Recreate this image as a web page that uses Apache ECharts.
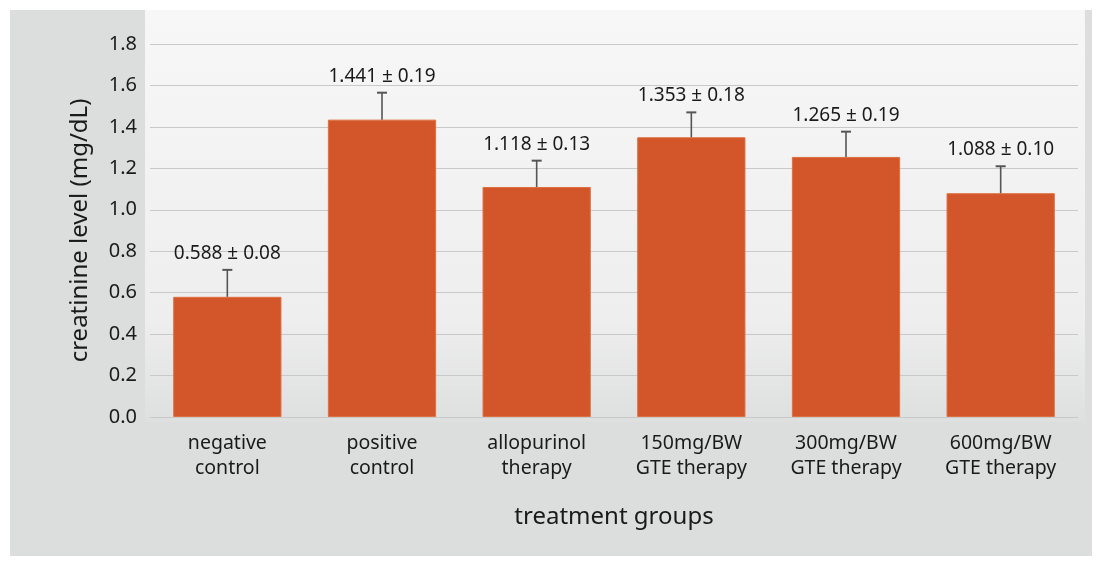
<!DOCTYPE html>
<html>
<head>
<meta charset="utf-8">
<title>creatinine level</title>
<script src="https://cdn.jsdelivr.net/npm/echarts@6/dist/echarts.min.js"></script>
<style>
  html, body { margin: 0; padding: 0; background: #ffffff; }
  #chart { width: 1099px; height: 565px; }
</style>
</head>
<body>
<div id="chart"></div>
<script>
// categories (two-line labels)
const categories = [
  "negative\ncontrol",
  "positive\ncontrol",
  "allopurinol\ntherapy",
  "150mg/BW\nGTE therapy",
  "300mg/BW\nGTE therapy",
  "600mg/BW\nGTE therapy"
];
// bar heights as drawn
const means = [0.58, 1.435, 1.11, 1.35, 1.255, 1.08];
// upper error bar length as drawn
const errors = [0.13, 0.13, 0.127, 0.12, 0.122, 0.13];
// printed value labels
const valueLabels = [
  "0.588 \u00b1 0.08",
  "1.441 \u00b1 0.19",
  "1.118 \u00b1 0.13",
  "1.353 \u00b1 0.18",
  "1.265 \u00b1 0.19",
  "1.088 \u00b1 0.10"
];
const yTicks = [0, 0.2, 0.4, 0.6, 0.8, 1.0, 1.2, 1.4, 1.6, 1.8];

const FONT = "Noto Sans";
const chart = echarts.init(document.getElementById("chart"));

// error bar + label data: [index, mean, upper]
const errData = means.map((m, i) => [i, m, m + errors[i]]);

const option = {
  backgroundColor: "#ffffff",
  animation: false,
  graphic: [
    {
      type: "rect",
      z: -10,
      shape: { x: 10, y: 10, width: 1082, height: 546 },
      style: { fill: "#dcdddd" }
    },
    {
      type: "rect",
      z: -9,
      shape: { x: 145, y: 10, width: 940, height: 412 },
      style: {
        fill: new echarts.graphic.LinearGradient(0, 0, 0, 1, [
          { offset: 0, color: "#f7f7f7" },
          { offset: 0.75, color: "#eeeeee" },
          { offset: 1, color: "#dedfdf" }
        ])
      }
    }
  ],
  grid: {
    left: 150,
    right: 21,
    top: 44,
    bottom: 148,
    containLabel: false
  },
  xAxis: {
    type: "category",
    data: categories,
    name: "treatment groups",
    nameLocation: "middle",
    nameGap: 88,
    nameTextStyle: { fontFamily: FONT, fontSize: 24, color: "#1a1a1a" },
    axisLine: { show: false },
    axisTick: { show: false },
    axisLabel: {
      interval: 0,
      margin: 14,
      fontFamily: FONT,
      fontSize: 19.5,
      lineHeight: 25,
      color: "#1a1a1a"
    }
  },
  yAxis: {
    type: "value",
    min: 0,
    max: 1.8,
    interval: 0.2,
    name: "creatinine level (mg/dL)",
    nameLocation: "middle",
    nameGap: 58,
    nameTextStyle: { fontFamily: FONT, fontSize: 24, color: "#1a1a1a" },
    axisLine: { show: false },
    axisTick: { show: false },
    axisLabel: {
      margin: 13,
      fontFamily: FONT,
      fontSize: 20,
      color: "#1a1a1a",
      formatter: v => yTicks.includes(Math.round(v * 10) / 10) ? v.toFixed(1) : ""
    },
    splitLine: { lineStyle: { color: "#c9c9c9", width: 1 } }
  },
  series: [
    {
      type: "bar",
      data: means,
      barCategoryGap: "30%",
      itemStyle: {
        color: "#d3562a",
        borderColor: "#de7040",
        borderWidth: 1
      },
      z: 2
    },
    {
      type: "custom",
      data: errData,
      z: 3,
      renderItem: function (params, api) {
        const base = api.coord([api.value(0), api.value(1)]);
        const top = api.coord([api.value(0), api.value(2)]);
        const half = 5;
        return {
          type: "group",
          children: [
            {
              type: "line",
              shape: { x1: base[0], y1: base[1], x2: top[0], y2: top[1] },
              style: { stroke: "#555555", lineWidth: 1.6 }
            },
            {
              type: "line",
              shape: { x1: top[0] - half, y1: top[1], x2: top[0] + half, y2: top[1] },
              style: { stroke: "#555555", lineWidth: 2 }
            },
            {
              type: "text",
              style: {
                text: valueLabels[params.dataIndex],
                x: top[0],
                y: top[1] - 7,
                align: "center",
                verticalAlign: "bottom",
                fontFamily: FONT,
                fontSize: 19,
                fill: "#1a1a1a"
              }
            }
          ]
        };
      }
    }
  ]
};

chart.setOption(option);
</script>
</body>
</html>
